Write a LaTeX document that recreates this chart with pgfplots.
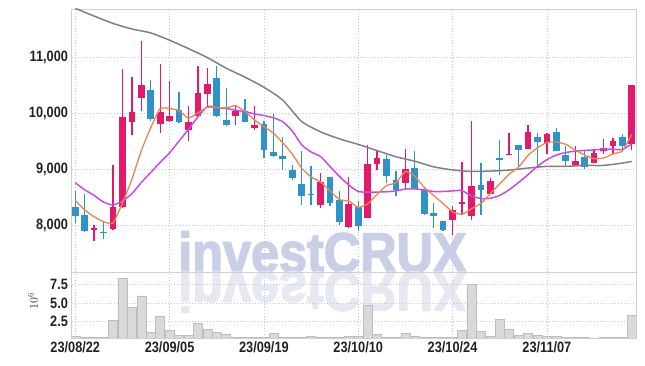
\documentclass[border=0pt]{standalone}
\usepackage{fontspec}
\usepackage{graphicx}
\usepackage{pgfplots}
\pgfplotsset{compat=1.18}
\usepackage{pgfplotstable}
\setmainfont{Liberation Sans}
\newfontfamily\tickfont[FakeStretch=0.85]{Liberation Sans Bold}
\newfontfamily\wmfont[FakeStretch=0.9, FakeBold=2.5]{Liberation Sans Bold}
\definecolor{upc}{HTML}{E5196B}
\definecolor{dnc}{HTML}{2D93C8}
\definecolor{ma5}{HTML}{F0834A}
\definecolor{ma20}{HTML}{C84BE8}
\definecolor{ma60}{HTML}{808080}
\definecolor{gridc}{HTML}{C2C5DA}
\definecolor{framec}{HTML}{CFCFCF}
\definecolor{wm}{HTML}{C9CFE6}
\definecolor{wmr}{HTML}{E7E9F2}
\definecolor{volf}{HTML}{D9D9D9}
\definecolor{vold}{HTML}{BDBDBD}
\definecolor{tickc}{HTML}{222222}

\pgfplotstableread{
x o h l c
2 7911 7994 7720 7947
4 7923 9078 7911 8328
5 8328 10786 8304 9935
6 9833 10643 9613 10024
7 10268 11292 10042 10506
9 9804 10875 9643 10024
10 9851 10565 9839 9952
12 9702 10131 9506 9839
13 9940 10833 9930 10363
14 10345 10804 10119 10524
17 9940 10119 9792 10042
19 9726 10119 9690 9780
26 8363 8929 8304 8774
29 7958 8851 7947 8381
31 8125 9435 8125 9089
32 9083 9327 8988 9202
35 8750 9363 8661 9006
40 8084 8333 7828 8274
41 8369 9119 8185 8417
42 8155 9863 8084 8702
44 8554 8839 8554 8780
46 9244 9637 9244 9274
48 9357 9780 9357 9661
50 9470 9643 9274 9619
53 9066 9405 9066 9149
55 9107 9345 9107 9292
56 9316 9536 9274 9375
57 9405 9554 9274 9506
59 9446 10506 9345 10506
}\upcandles

\pgfplotstableread{
x o h l c
0 8322 8601 8030 8167
1 8185 8554 7869 7887
3 7881 8066 7756 7851
8 10417 10595 9863 9899
11 10048 10375 9830 9833
15 10631 10833 9923 9940
16 9881 10446 9762 9792
18 10042 10250 9833 9833
20 9810 9863 9197 9333
21 9304 9982 9210 9226
22 9238 9566 8988 9173
23 8988 9077 8810 8839
24 8738 9316 8363 8512
25 8560 9048 8363 8548
27 8857 8857 8333 8393
28 8441 8601 7994 8048
30 8316 8423 7887 7988
33 9179 9256 8750 8869
34 8810 8970 8512 8631
36 9018 9316 8649 8649
37 8631 8631 8185 8203
38 8214 8393 7947 8155
39 8078 8078 7887 7905
43 8720 9107 8185 8631
45 9202 9518 8899 9155
47 9435 9435 9048 9345
49 9566 9643 9018 9476
51 9667 9732 9316 9316
52 9244 9405 9060 9137
54 9220 9316 9000 9030
58 9566 9625 9345 9405
}\downcandles

\pgfplotstableread{
x v
0 0.45
1 0.30
2 0.30
3 0.30
4 2.66
5 8.35
6 4.36
7 5.96
8 1.05
9 3.21
10 1.28
11 0.64
12 0.64
13 2.29
14 1.47
15 1.05
16 0.78
17 0.32
18 0.32
19 0.32
20 0.30
21 0.92
22 0.37
23 0.37
24 0.37
25 0.50
26 0.41
27 0.30
28 0.30
29 0.50
30 0.50
31 4.72
32 0.78
33 0.37
34 0.37
35 0.92
36 0.55
37 0.37
38 0.30
39 0.30
40 0.37
41 1.28
42 7.52
43 1.15
44 0.55
45 2.80
46 1.47
47 0.64
48 0.87
49 0.64
50 0.50
51 0.46
52 0.32
53 0.32
54 0.32
55 0.28
56 0.32
57 0.32
58 0.32
59 3.35
}\volume

\begin{document}
\begin{tikzpicture}
\useasboundingbox (0pt,0pt) rectangle (645pt,366pt);
% watermark
\node[anchor=base west, inner sep=0pt, text=wm, font=\wmfont\fontsize{56}{56}\selectfont] at (178pt,94pt) {investCRUX};
\node[anchor=base west, inner sep=0pt, text=wmr, font=\wmfont\fontsize{56}{56}\selectfont] at (178pt,94pt) {\scalebox{1}[-1]{investCRUX}};

% main price axis
\begin{axis}[
  at={(71.5pt,94pt)}, anchor=south west, scale only axis,
  width=564.5pt, height=263pt,
  xmin=-0.4, xmax=59.45, ymin=7163, ymax=11857,
  xtick={0,10,20,30,40,50}, xticklabels={},
  ytick={8000,9000,10000,11000},
  scaled y ticks=false,
  grid=major,
  major grid style={draw=gridc, line width=0.7pt, dash pattern=on 1pt off 2pt},
  axis line style={draw=framec, line width=0.8pt},
  major tick length=0pt,
  yticklabel style={font=\tickfont\fontsize{15}{15}\selectfont, text=tickc},
  /pgf/number format/1000 sep={,},
  /pgf/number format/assume math mode=true,
]
% wicks
\addplot[draw=none, no markers, forget plot,
  error bars/.cd, y dir=plus, y explicit, error mark=none,
  error bar style={draw=upc, line width=1.3pt, solid}]
  table[x=x, y=l, y error plus expr=\thisrow{h}-\thisrow{l}] {\upcandles};
\addplot[draw=none, no markers, forget plot,
  error bars/.cd, y dir=plus, y explicit, error mark=none,
  error bar style={draw=dnc, line width=1.3pt, solid}]
  table[x=x, y=l, y error plus expr=\thisrow{h}-\thisrow{l}] {\downcandles};
% bodies
\addplot[draw=none, no markers, forget plot,
  error bars/.cd, y dir=plus, y explicit, error mark=none,
  error bar style={draw=upc, line width=6.7pt, solid}]
  table[x=x, y=o, y error plus expr=\thisrow{c}-\thisrow{o}] {\upcandles};
\addplot[draw=none, no markers, forget plot,
  error bars/.cd, y dir=plus, y explicit, error mark=none,
  error bar style={draw=dnc, line width=6.7pt, solid}]
  table[x=x, y=c, y error plus expr=\thisrow{o}-\thisrow{c}] {\downcandles};
% moving averages
\addplot[ma60, line width=1.5pt, smooth, tension=0.4, mark=none] coordinates {
(0,11870)(2,11730)(4,11600)(6,11500)(8,11430)(10,11300)(12,11150)(14,10990)
(16,10800)(18,10640)(20,10460)(22,10230)(24,9850)(26,9665)(28,9540)(30,9440)
(32,9330)(34,9220)(36,9140)(38,9040)(40,8985)(42,8958)(44,8964)(46,8982)
(48,9018)(50,9048)(52,9048)(54,9065)(56,9065)(58,9107)(59,9136)};
\addplot[ma20, line width=1.5pt, smooth, tension=0.4, mark=none] coordinates {
(0,8755)(1,8630)(2,8530)(3,8410)(4,8360)(5,8430)(6,8560)(7,8760)(8,8940)(9,9120)
(10,9290)(11,9500)(12,9710)(13,9930)(14,10115)(15,10100)(16,10080)(17,10050)(18,10025)(19,9985)
(20,9955)(21,9915)(22,9845)(23,9680)(24,9435)(25,9305)(26,9225)(27,9048)(28,8869)(29,8715)
(30,8600)(31,8590)(32,8590)(33,8595)(34,8610)(35,8645)(36,8645)(37,8628)(38,8600)(39,8600)
(40,8610)(41,8615)(42,8520)(43,8475)(44,8478)(45,8530)(46,8630)(47,8760)(48,8900)(49,9050)
(50,9167)(51,9250)(52,9295)(53,9320)(54,9333)(55,9342)(56,9354)(57,9354)(58,9350)(59,9448)};
\addplot[ma5, line width=1.3pt, smooth, tension=0.3, mark=none] coordinates {
(0,8440)(1,8270)(2,8150)(3,8060)(4,8036)(5,8390)(6,8817)(7,9329)(8,9738)(9,10078)
(10,10081)(11,10043)(12,9909)(13,10002)(14,10102)(15,10100)(16,10092)(17,10132)(18,10026)(19,9877)
(20,9756)(21,9643)(22,9469)(23,9270)(24,9017)(25,8860)(26,8769)(27,8613)(28,8455)(29,8429)
(30,8317)(31,8380)(32,8542)(33,8706)(34,8756)(35,8959)(36,8871)(37,8672)(38,8529)(39,8384)
(40,8237)(41,8191)(42,8291)(43,8386)(44,8561)(45,8737)(46,8908)(47,9037)(48,9243)(49,9382)
(50,9475)(51,9483)(52,9442)(53,9339)(54,9250)(55,9185)(56,9197)(57,9270)(58,9322)(59,9617)};
\end{axis}

% volume axis
\begin{axis}[
  at={(71.5pt,28pt)}, anchor=south west, scale only axis,
  width=564.5pt, height=66pt,
  xmin=-0.4, xmax=59.45, ymin=0.25, ymax=9.2,
  xtick={0,10,20,30,40,50},
  xticklabels={23/08/22,23/09/05,23/09/19,23/10/10,23/10/24,23/11/07},
  ytick={2.5,5,7.5},
  scaled y ticks=false,
  grid=major,
  major grid style={draw=gridc, line width=0.7pt, dash pattern=on 1pt off 2pt},
  axis line style={draw=framec, line width=0.8pt},
  major tick length=0pt,
  xticklabel style={font=\tickfont\fontsize{15}{15}\selectfont, text=tickc},
  yticklabel style={font=\tickfont\fontsize{15}{15}\selectfont, text=tickc},
  /pgf/number format/fixed,
  /pgf/number format/fixed zerofill,
  /pgf/number format/precision=1,
  /pgf/number format/assume math mode=true,
]
\addplot[ybar, bar width=0.95, fill=volf, draw=vold, line width=0.5pt] table[x=x, y=v] {\volume};
\end{axis}
\node[rotate=90, text=black!80, font=\fontsize{12}{12}\selectfont] at (33pt,65pt) {$10^{6}$};
\end{tikzpicture}
\end{document}
